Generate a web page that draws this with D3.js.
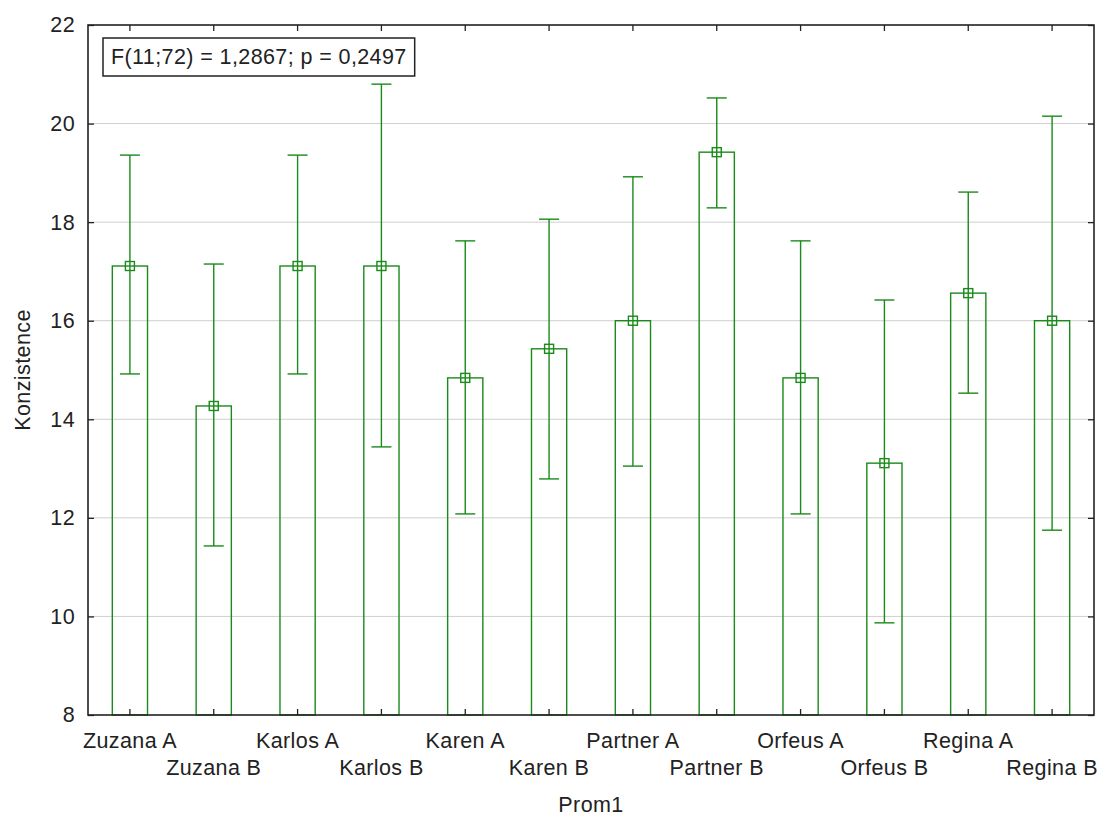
<!DOCTYPE html>
<html>
<head>
<meta charset="utf-8">
<script src="https://cdn.jsdelivr.net/npm/d3@7"></script>
<style>
  body { margin: 0; background: #fff; }
  text { font-family: "Liberation Sans", Arial, sans-serif; fill: #222; letter-spacing: 0.4px; }
</style>
</head>
<body>
<div id="chart"></div>
<script>
// data
const categories = ["Zuzana A","Zuzana B","Karlos A","Karlos B","Karen A","Karen B",
                    "Partner A","Partner B","Orfeus A","Orfeus B","Regina A","Regina B"];
const means = [17.11,14.27,17.11,17.11,14.84,15.43,16.0,19.42,14.84,13.11,16.56,16.0];
const upper = [19.36,17.15,19.36,20.8,17.62,18.06,18.92,20.52,17.62,16.42,18.61,20.15];
const lower = [14.92,11.43,14.92,13.44,12.08,12.79,13.05,18.29,12.08,9.87,14.53,11.75];
const yTicks = [8,10,12,14,16,18,20,22];
const statText = "F(11;72) = 1,2867; p = 0,2497";

let width = 1101, height = 819;
let m = {left: 88, right: 7, top: 25, bottom: 104};
let green = "#1a8a1a";
let fs = 21.5;

let svg = d3.select("#chart").append("svg")
  .attr("width", width).attr("height", height);

let x = d3.scaleBand().domain(categories)
  .range([m.left, width - m.right]).padding(0);
let y = d3.scaleLinear().domain([8, 22])
  .range([height - m.bottom, m.top]);

// grid
svg.append("g").selectAll("line")
  .data(yTicks.filter(t => t > 8 && t < 22))
  .join("line")
  .attr("x1", m.left).attr("x2", width - m.right)
  .attr("y1", d => y(d)).attr("y2", d => y(d))
  .attr("stroke", "#cfcfcf").attr("stroke-width", 1);

// bars
let barW = x.bandwidth() * 0.42;
let g = svg.append("g");
categories.forEach((c, i) => {
  let cx = x(c) + x.bandwidth() / 2;
  g.append("rect")
    .attr("x", cx - barW / 2).attr("y", y(means[i]))
    .attr("width", barW).attr("height", y(8) - y(means[i]))
    .attr("fill", "none").attr("stroke", green).attr("stroke-width", 1.4);
  g.append("line")
    .attr("x1", cx).attr("x2", cx)
    .attr("y1", y(upper[i])).attr("y2", y(lower[i]))
    .attr("stroke", green).attr("stroke-width", 1.4);
  [upper[i], lower[i]].forEach(v => {
    g.append("line")
      .attr("x1", cx - 10).attr("x2", cx + 10)
      .attr("y1", y(v)).attr("y2", y(v))
      .attr("stroke", green).attr("stroke-width", 1.4);
  });
  g.append("rect")
    .attr("x", cx - 4.5).attr("y", y(means[i]) - 4.5)
    .attr("width", 9).attr("height", 9)
    .attr("fill", "none").attr("stroke", green).attr("stroke-width", 1.4);
});

// frame
svg.append("rect")
  .attr("x", m.left).attr("y", m.top)
  .attr("width", width - m.right - m.left).attr("height", height - m.bottom - m.top)
  .attr("fill", "none").attr("stroke", "#222").attr("stroke-width", 1.6);

// axes (ticks pointing inward)
let yAxisL = svg.append("g").attr("transform", `translate(${m.left},0)`)
  .call(d3.axisLeft(y).tickValues(yTicks).tickSize(-6).tickPadding(13).tickFormat(d3.format("d")));
let yAxisR = svg.append("g").attr("transform", `translate(${width - m.right},0)`)
  .call(d3.axisRight(y).tickValues(yTicks).tickSize(-6).tickFormat(""));
let xAxisB = svg.append("g").attr("transform", `translate(0,${height - m.bottom})`)
  .call(d3.axisBottom(x).tickSize(-6).tickFormat(""));
let xAxisT = svg.append("g").attr("transform", `translate(0,${m.top})`)
  .call(d3.axisTop(x).tickSize(-6).tickFormat(""));
[yAxisL, yAxisR, xAxisB, xAxisT].forEach(a => {
  a.select(".domain").remove();
  a.selectAll(".tick line").attr("stroke", "#222").attr("stroke-width", 1.3);
});
yAxisL.selectAll("text").attr("font-size", fs)
  .attr("font-family", "Liberation Sans, Arial, sans-serif").attr("fill", "#222");

// staggered category labels
svg.append("g").selectAll("text")
  .data(categories).join("text")
  .attr("x", d => x(d) + x.bandwidth() / 2)
  .attr("y", (d, i) => i % 2 == 0 ? 748 : 775)
  .attr("text-anchor", "middle").attr("font-size", fs)
  .text(d => d);

// axis titles
svg.append("text").attr("x", (m.left + width - m.right) / 2).attr("y", 812)
  .attr("text-anchor", "middle").attr("font-size", fs).text("Prom1");
svg.append("text")
  .attr("transform", `translate(30,${(m.top + height - m.bottom) / 2}) rotate(-90)`)
  .attr("text-anchor", "middle").attr("font-size", fs).text("Konzistence");

// stat box
let sb = svg.append("g");
let st = sb.append("text").attr("x", 111).attr("y", 64)
  .attr("font-size", fs).text(statText);
let bb = st.node().getBBox();
sb.insert("rect", "text")
  .attr("x", 103).attr("y", 38)
  .attr("width", bb.width + 16).attr("height", 38)
  .attr("fill", "#fff").attr("stroke", "#222").attr("stroke-width", 1.5);
</script>
</body>
</html>
